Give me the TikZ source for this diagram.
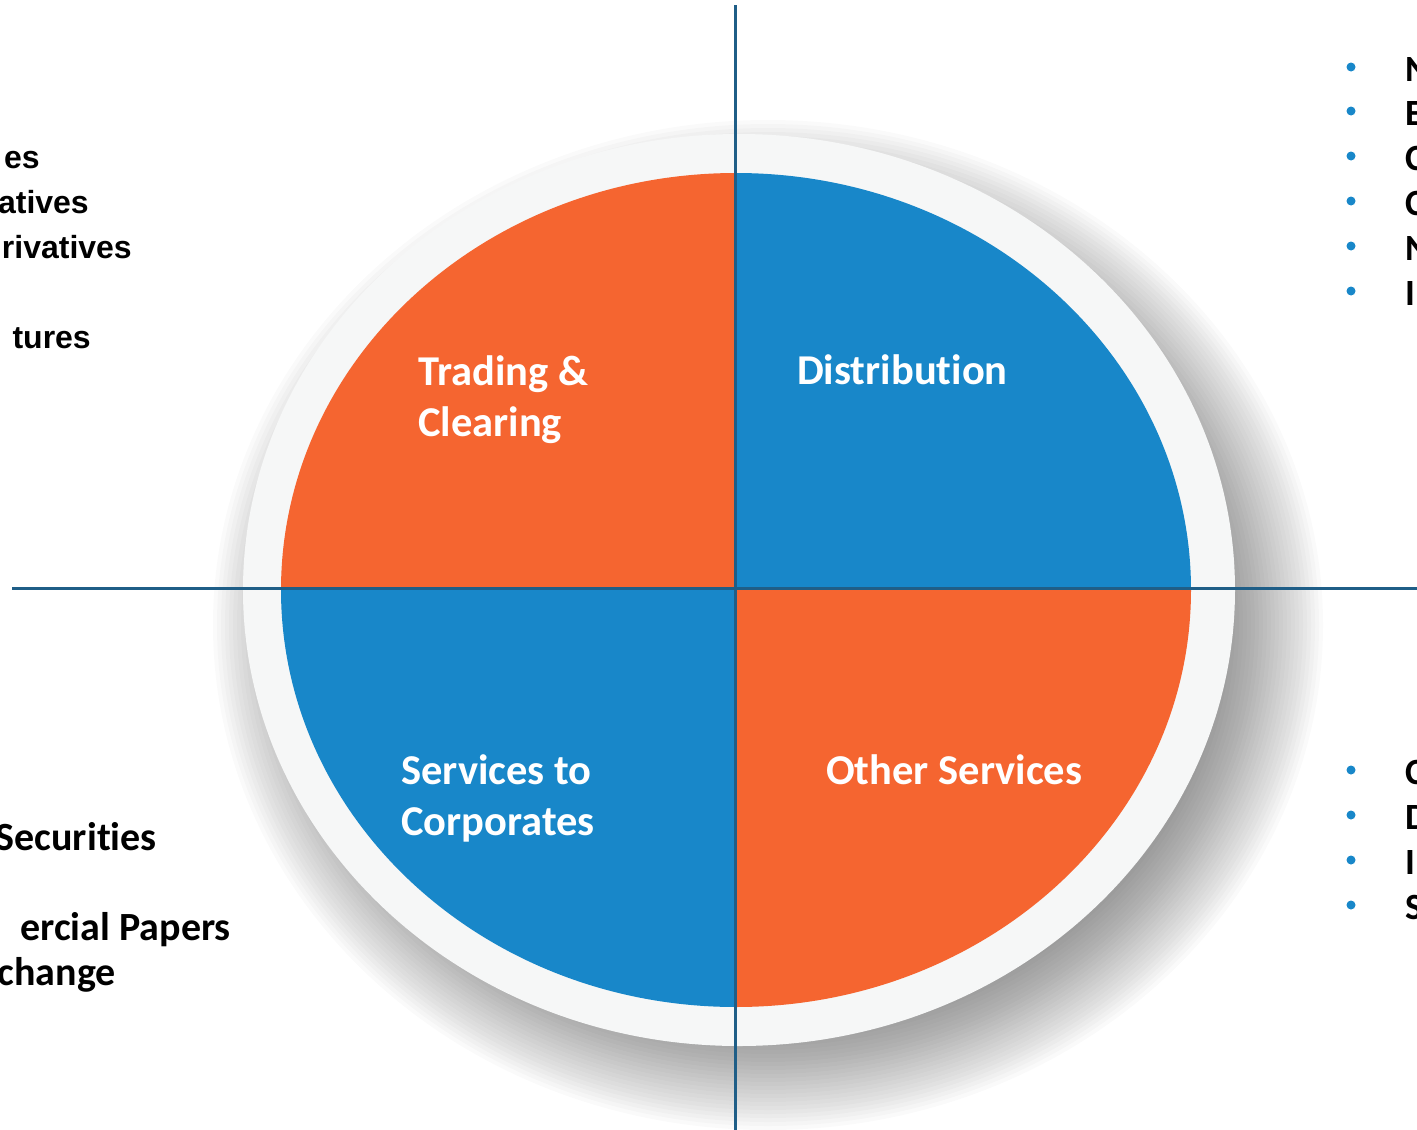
\documentclass[tikz,border=0pt]{standalone}
\usepackage{fontspec}
\setmainfont{Carlito}[Ligatures={NoCommon}]
\newfontfamily\arialfont{Liberation Sans}
\usetikzlibrary{positioning}

\definecolor{quadorange}{HTML}{F56530}
\definecolor{quadblue}{HTML}{1887C9}
\definecolor{axisblue}{HTML}{1F5E87}
\definecolor{ringgray}{HTML}{F6F7F7}

\tikzset{
    axis/.style={draw=axisblue, line width=3pt},
    quadlabel/.style={anchor=base west, inner sep=0, text=white, align=left,
      font=\bfseries\fontsize{42.5}{51}\selectfont},
    sidetext/.style={anchor=base east, inner sep=0,
      font=\arialfont\bfseries\fontsize{32}{40}\selectfont},
    listtext/.style={anchor=base east, inner sep=0,
      font=\bfseries\fontsize{40}{45}\selectfont},
    bulletdot/.style={circle, fill=quadblue, inner sep=0, minimum size=9pt},
    bulletitem/.style={anchor=base west, inner sep=0,
      font=\bfseries\fontsize{37}{45}\selectfont}
  }

\begin{document}
\begin{tikzpicture}[x=1pt, y=-1pt]
            \useasboundingbox (0,0) rectangle (1417,1130);
            % soft shadow under the disc
            \foreach \s in {0,4,...,100}
              \fill[black, opacity=0.02] (768,625) ellipse [x radius=455+\s, y radius=405+\s];
            \fill[ringgray] (739,590) ellipse [x radius=496, y radius=456];
            % four quadrants
            \begin{scope}
              \clip (736,590) ellipse [x radius=455, y radius=417];
              \fill[quadorange] (735,588) rectangle (260,150);
              \fill[quadblue] (735,588) rectangle (1210,150);
              \fill[quadblue] (735,588) rectangle (260,1030);
              \fill[quadorange] (735,588) rectangle (1210,1030);
            \end{scope}
            \coordinate (top) at (735,5);
            \coordinate (bottom) at (735,1130);
            \coordinate (left) at (12,588);
            \coordinate (right) at (1417,588);
            \draw[axis] (left) -- (right);
            \draw[axis] (top) -- (bottom);
            \node[quadlabel] (trading) at (418,436) {Trading \&\\Clearing};
            \node[quadlabel] (distribution) at (797,384) {Distribution};
            \node[quadlabel] (corporates) at (401,835) {Services to\\Corporates};
            \node[quadlabel] (other) at (826,784) {Other Services};
            % text running off the left edge
            \node[sidetext] (sideA) at (40,168) {es};
            \node[sidetext] (sideB) at (89,213) {atives};
            \node[sidetext] (sideC) at (132,258) {rivatives};
            \node[sidetext] (sideD) at (91,348) {tures};
            \node[listtext] (listA) at (157,850) {Securities};
            \node[listtext] (listB) at (231,940) {ercial Papers};
            \node[listtext] (listC) at (116,985) {change};
            % bullets running off the right edge
            \foreach \y/\t [count=\i] in {67/N, 111/E, 156/C, 201/C, 246/N, 291/I} {
              \node[bulletdot] (dotA\i) at (1351,\y) {};
              \node[bulletitem] (itemA\i) at (1405,\y+14) {\t};
            }
            \foreach \y/\t [count=\i] in {770/C, 815/D, 860/I, 905/S} {
              \node[bulletdot] (dotB\i) at (1351,\y) {};
              \node[bulletitem] (itemB\i) at (1405,\y+14) {\t};
            }
        \end{tikzpicture}
\end{document}
